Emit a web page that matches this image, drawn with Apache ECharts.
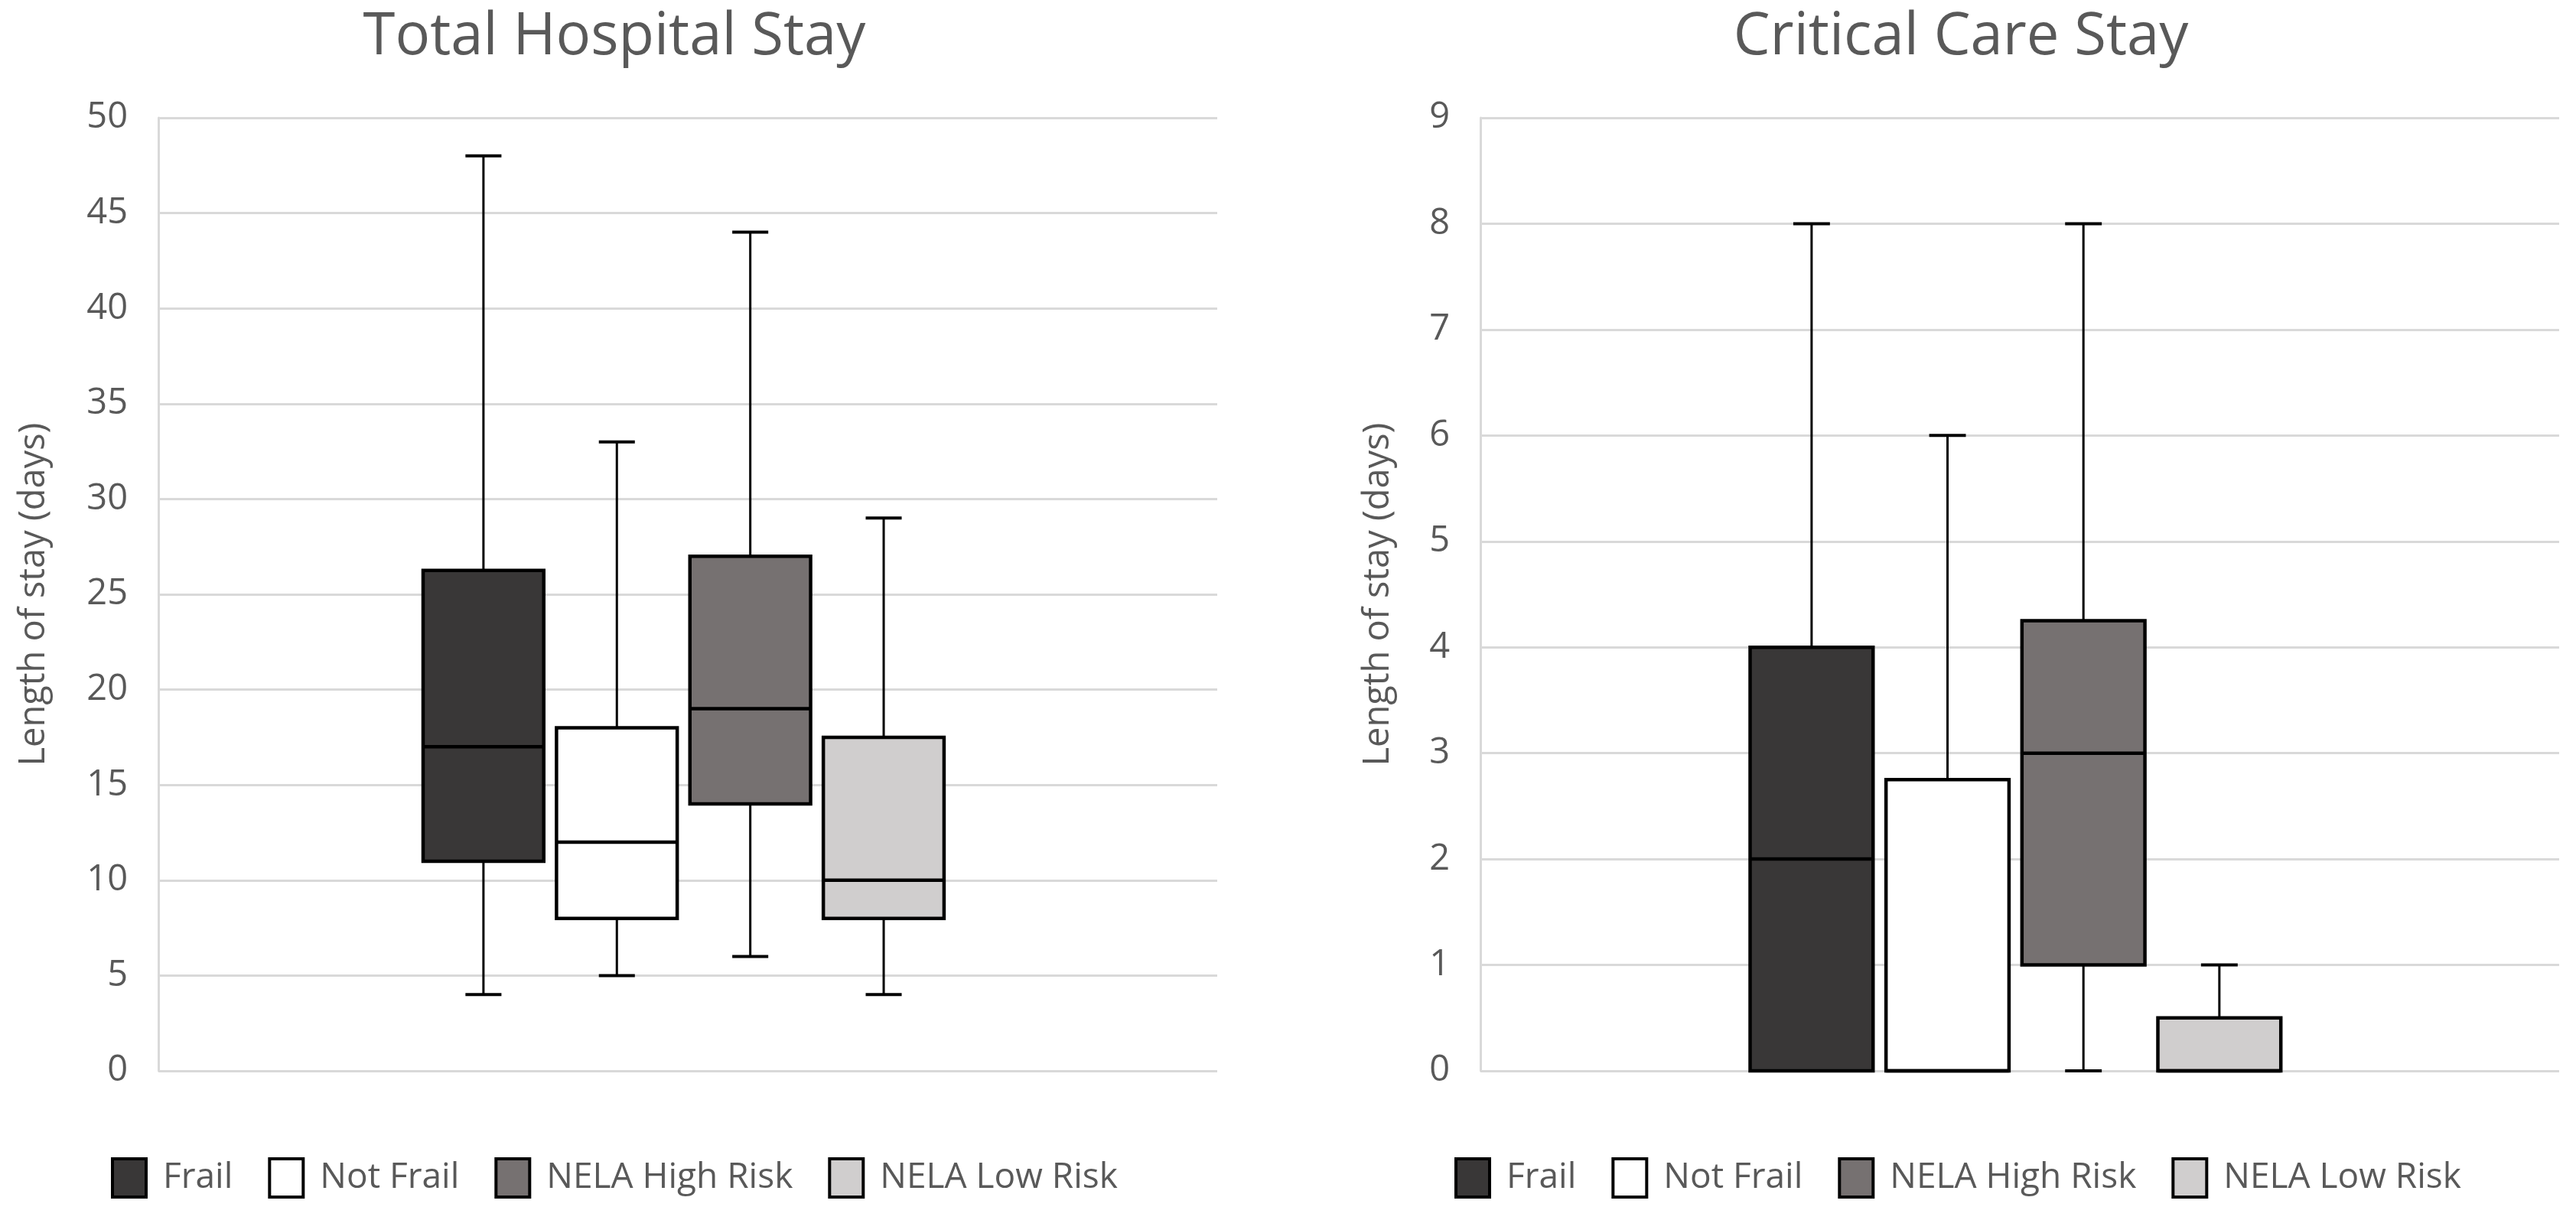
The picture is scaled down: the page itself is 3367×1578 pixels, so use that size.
<!DOCTYPE html>
<html>
<head>
<meta charset="utf-8">
<script src="https://cdn.jsdelivr.net/npm/echarts@6/dist/echarts.min.js"></script>
<style>
html,body{margin:0;padding:0;background:#fff;}
#main{width:3367px;height:1578px;}
</style>
</head>
<body>
<div id="main"></div>
<script>
// ---- data ----
const seriesNames = ['Frail', 'Not Frail', 'NELA High Risk', 'NELA Low Risk'];
const seriesColors = ['#393737', '#ffffff', '#767171', '#d0cece'];
// [min, Q1, median, Q3, max]
const hospitalFrail = [4, 11, 17, 26.25, 48];
const hospitalNotFrail = [5, 8, 12, 18, 33];
const hospitalHighRisk = [6, 14, 19, 27, 44];
const hospitalLowRisk = [4, 8, 10, 17.5, 29];
const criticalFrail = [0, 0, 2, 4, 8];
const criticalNotFrail = [0, 0, 0, 2.75, 6];
const criticalHighRisk = [0, 1, 3, 4.25, 8];
const criticalLowRisk = [0, 0, 0, 0.5, 1];
const hospitalTicks = { min: 0, max: 50, interval: 5 };
const criticalTicks = { min: 0, max: 9, interval: 1 };
const titles = ['Total Hospital Stay', 'Critical Care Stay'];
const yName = 'Length of stay (days)';

const hospitalSets = [hospitalFrail, hospitalNotFrail, hospitalHighRisk, hospitalLowRisk];
const criticalSets = [criticalFrail, criticalNotFrail, criticalHighRisk, criticalLowRisk];

// ---- style constants ----
const FONT = "'Open Sans', 'Noto Sans', sans-serif";
const TXT = '#595959';
const GRID = '#d9d9d9';
const SPACING = 0.126, BOX_W = 0.114, CAP_W = 0.034, GROUP_SHIFT = -0.004;

function makeRender(idx) {
  return function (params, api) {
    const cat = api.value(0);
    const lo = api.value(1), q1 = api.value(2), med = api.value(3), q3 = api.value(4), hi = api.value(5);
    const x0 = api.coord([cat, 0])[0];
    const band = api.size([1, 0])[0];
    const cx = x0 + ((idx - 1.5) * SPACING + GROUP_SHIFT) * band;
    const bw = band * BOX_W, cw = band * CAP_W;
    const y = v => api.coord([cat, v])[1];
    const fill = seriesColors[idx];
    const lineStyle = { stroke: '#000', lineWidth: 3 };
    return {
      type: 'group',
      children: [
        { type: 'line', shape: { x1: cx, y1: y(hi), x2: cx, y2: y(q3) }, style: lineStyle },
        { type: 'line', shape: { x1: cx, y1: y(q1), x2: cx, y2: y(lo) }, style: lineStyle },
        { type: 'line', shape: { x1: cx - cw / 2, y1: y(hi), x2: cx + cw / 2, y2: y(hi) }, style: { stroke: '#000', lineWidth: 4 } },
        { type: 'line', shape: { x1: cx - cw / 2, y1: y(lo), x2: cx + cw / 2, y2: y(lo) }, style: { stroke: '#000', lineWidth: 4 } },
        { type: 'rect', shape: { x: cx - bw / 2, y: y(q3), width: bw, height: y(q1) - y(q3) },
          style: { fill: fill, stroke: '#000', lineWidth: 4.5 } },
        { type: 'line', shape: { x1: cx - bw / 2, y1: y(med), x2: cx + bw / 2, y2: y(med) }, style: { stroke: '#000', lineWidth: 4.5 } }
      ]
    };
  };
}

function buildSeries(sets, gridIdx) {
  return sets.map((d, i) => ({
    type: 'custom',
    name: seriesNames[i],
    xAxisIndex: gridIdx,
    yAxisIndex: gridIdx,
    renderItem: makeRender(i),
    itemStyle: { color: seriesColors[i], borderColor: '#000', borderWidth: 4 },
    encode: { x: 0, y: [1, 2, 3, 4, 5] },
    data: [[0].concat(d)],
    silent: true,
    animation: false
  }));
}

function yAxis(gridIdx, ticks, nameGap) {
  return {
    type: 'value', gridIndex: gridIdx,
    min: ticks.min, max: ticks.max, interval: ticks.interval,
    name: yName, nameLocation: 'middle', nameRotate: 90, nameGap: nameGap,
    nameTextStyle: { fontFamily: FONT, fontSize: 47, color: TXT },
    axisLine: { show: true, lineStyle: { color: GRID, width: 3 } },
    axisTick: { show: false },
    axisLabel: { fontFamily: FONT, fontSize: 47, color: TXT, margin: 40 },
    splitLine: { show: true, lineStyle: { color: GRID, width: 3 } }
  };
}

function xAxis(gridIdx) {
  return {
    type: 'category', gridIndex: gridIdx, data: [''],
    axisLine: { show: false }, axisTick: { show: false }, axisLabel: { show: false },
    splitLine: { show: false }
  };
}

function legend(left, names) {
  return {
    left: left, top: 1508, orient: 'horizontal',
    data: names, icon: 'rect', itemWidth: 44, itemHeight: 50, itemGap: 46,
    itemStyle: { borderColor: '#000', borderWidth: 4 },
    textStyle: { fontFamily: FONT, fontSize: 46, color: TXT, padding: [0, 0, 0, 17] },
    selectedMode: false
  };
}

const chart = echarts.init(document.getElementById('main'), null, { renderer: 'canvas' });
chart.setOption({
  animation: false,
  backgroundColor: '#ffffff',
  title: [
    { text: titles[0], left: 798, top: 6, textAlign: 'center',
      textStyle: { fontFamily: FONT, fontSize: 76, fontWeight: 'normal', color: TXT } },
    { text: titles[1], left: 2558, top: 6, textAlign: 'center',
      textStyle: { fontFamily: FONT, fontSize: 76, fontWeight: 'normal', color: TXT } }
  ],
  legend: [
    Object.assign(legend(140, seriesNames), { id: 'l0' }),
    Object.assign(legend(1896, seriesNames), { id: 'l1' })
  ],
  grid: [
    { left: 207, right: 3367 - 1591, top: 154, bottom: 1578 - 1400 },
    { left: 1935, right: 3367 - 3345, top: 154, bottom: 1578 - 1400 }
  ],
  xAxis: [xAxis(0), xAxis(1)],
  yAxis: [yAxis(0, hospitalTicks, 139), yAxis(1, criticalTicks, 110)],
  series: buildSeries(hospitalSets, 0).concat(buildSeries(criticalSets, 1))
});
</script>
</body>
</html>
